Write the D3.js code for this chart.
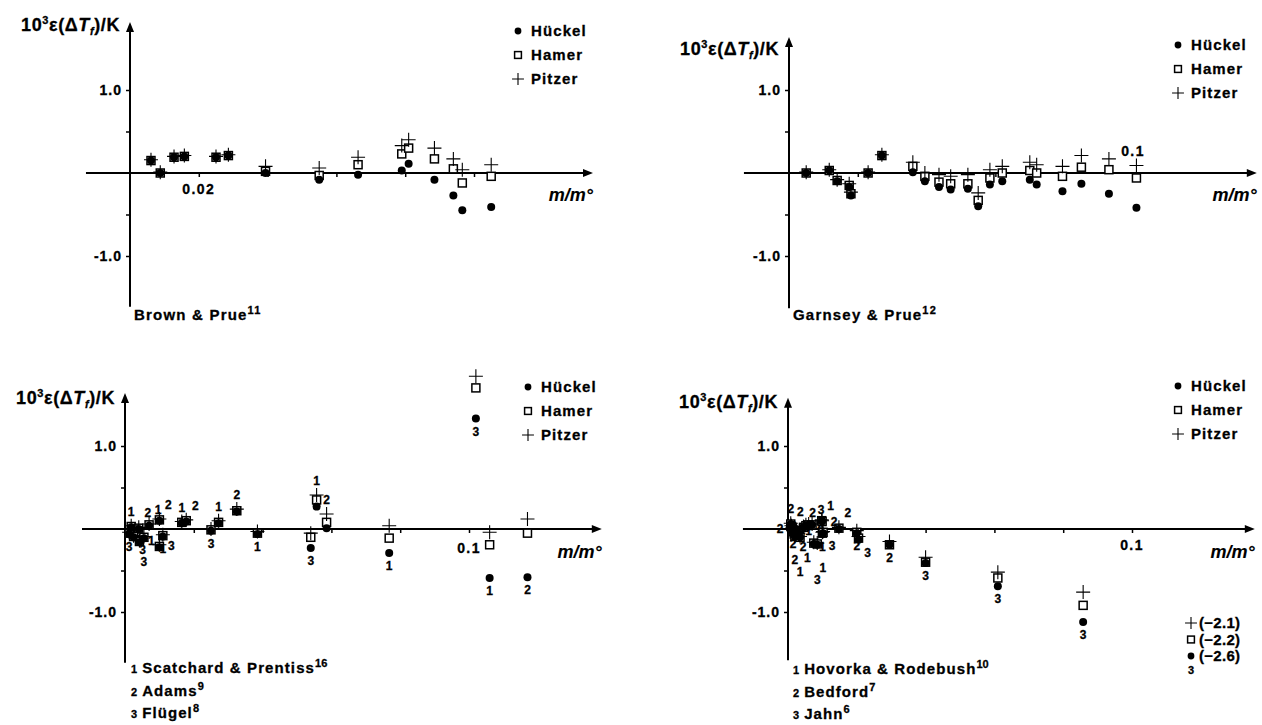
<!DOCTYPE html>
<html>
<head>
<meta charset="utf-8">
<script src="https://cdn.jsdelivr.net/npm/d3@7"></script>
<style>
  body { margin: 0; background: #fff; }
  text { font-family: "Liberation Sans", Arial, sans-serif; font-weight: bold; fill: #000;
         stroke: #000; stroke-width: 0.3px; }
</style>
</head>
<body>
<svg id="chart" width="1262" height="725"></svg>
<script>
// Brown & Prue (top left)
const bpM      = [0.0061, 0.0088, 0.0128, 0.0158, 0.025, 0.0286, 0.0394, 0.055, 0.0663, 0.079, 0.081, 0.0885, 0.094, 0.0966, 0.105];
const bpHuckel = [0.15, 0.0, 0.19, 0.20, 0.19, 0.21, 0.0, -0.08, -0.02, 0.03, 0.11, -0.08, -0.27, -0.45, -0.41];
const bpHamer  = [0.15, 0.0, 0.19, 0.20, 0.19, 0.21, 0.02, -0.03, 0.10, 0.23, 0.30, 0.17, 0.05, -0.12, -0.04];
const bpPitzer = [0.16, 0.01, 0.20, 0.21, 0.20, 0.22, 0.08, 0.06, 0.19, 0.33, 0.40, 0.30, 0.17, 0.04, 0.10];

// Garnsey & Prue (top right)
const gpM      = [0.005, 0.0117, 0.014, 0.0175, 0.018, 0.023, 0.027, 0.036, 0.0395, 0.0436, 0.047, 0.052, 0.055, 0.0584, 0.062, 0.070, 0.072, 0.0795, 0.085, 0.093, 0.101];
const gpHuckel = [0.0, 0.03, -0.10, -0.17, -0.27, 0.0, 0.21, 0.01, -0.10, -0.17, -0.20, -0.19, -0.40, -0.14, -0.10, -0.08, -0.14, -0.22, -0.13, -0.25, -0.42];
const gpHamer  = [0.0, 0.03, -0.09, -0.15, -0.25, 0.0, 0.21, 0.08, -0.04, -0.11, -0.13, -0.13, -0.33, -0.06, 0.0, 0.03, 0.0, -0.04, 0.07, 0.04, -0.06];
const gpPitzer = [0.01, 0.04, -0.08, -0.13, -0.23, 0.01, 0.22, 0.13, 0.0, -0.02, -0.04, -0.02, -0.24, 0.04, 0.08, 0.13, 0.10, 0.08, 0.21, 0.17, 0.09];

// Scatchard & Prentiss (1), Adams (2), Flügel (3) (bottom left)
const spM      = [0.0012, 0.0025, 0.0018, 0.0040, 0.0042, 0.0055, 0.0070, 0.0100, 0.0110, 0.0100, 0.0165, 0.0178, 0.0250, 0.0272, 0.0325, 0.0385, 0.054, 0.0557, 0.0586, 0.0768, 0.102, 0.106, 0.117];
const spHuckel = [-0.06, -0.10, 0.02, 0.00, -0.16, -0.11, 0.04, 0.10, -0.09, -0.22, 0.07, 0.09, -0.02, 0.07, 0.21, -0.06, -0.23, 0.27, 0.01, -0.29, 1.33, -0.59, -0.58];
const spHamer  = [-0.05, -0.09, 0.03, 0.01, -0.15, -0.10, 0.05, 0.11, -0.08, -0.21, 0.08, 0.10, -0.01, 0.08, 0.22, -0.05, -0.10, 0.35, 0.08, -0.11, 1.70, -0.19, -0.05];
const spPitzer = [-0.04, -0.08, 0.04, 0.02, -0.14, -0.09, 0.06, 0.12, -0.07, -0.19, 0.09, 0.11, 0.00, 0.10, 0.24, -0.03, -0.05, 0.41, 0.18, 0.04, 1.84, -0.04, 0.12];
const spSource = [3, 3, 1, 2, 1, 3, 1, 2, 1, 3, 1, 2, 3, 1, 2, 1, 3, 1, 2, 1, 3, 1, 2];
const spNames  = [["Scatchard & Prentiss", "16"], ["Adams", "9"], ["Flügel", "8"]];

// Hovorka & Rodebush (1), Bedford (2), Jahn (3) (bottom right)
const hrM      = [0.0008, 0.0010, 0.0012, 0.0015, 0.0018, 0.0020, 0.0025, 0.0030, 0.0035, 0.0045, 0.0052, 0.0060, 0.0070, 0.0098, 0.0099, 0.0100, 0.0102, 0.0075, 0.0085, 0.0148, 0.0200, 0.0205, 0.0295, 0.040, 0.061, 0.0858];
const hrHuckel = [0.06, 0.03, 0.00, -0.03, -0.06, -0.09, -0.02, -0.06, -0.10, 0.02, 0.04, 0.05, 0.05, 0.10, 0.09, -0.06, -0.05, -0.18, -0.19, 0.00, -0.05, -0.13, -0.19, -0.41, -0.69, -1.12];
const hrHamer  = [0.06, 0.03, 0.00, -0.03, -0.06, -0.09, -0.02, -0.06, -0.10, 0.02, 0.04, 0.05, 0.05, 0.10, 0.09, -0.05, -0.04, -0.17, -0.18, 0.01, -0.04, -0.11, -0.19, -0.40, -0.59, -0.92];
const hrPitzer = [0.07, 0.04, 0.01, -0.02, -0.05, -0.08, -0.01, -0.05, -0.09, 0.03, 0.05, 0.06, 0.06, 0.11, 0.10, -0.04, -0.03, -0.16, -0.17, 0.02, -0.02, -0.09, -0.15, -0.34, -0.52, -0.76];
const hrSource = [2, 2, 2, 2, 2, 2, 1, 1, 1, 2, 1, 2, 3, 1, 2, 1, 3, 1, 3, 2, 2, 3, 2, 3, 3, 3];
const hrNames  = [["Hovorka & Rodebush", "10"], ["Bedford", "7"], ["Jahn", "6"]];
// off-scale Jahn point, given in the corner
const hrOffScale = [["pitzer", "(−2.1)"], ["hamer", "(−2.2)"], ["huckel", "(−2.6)"]];

const legendNames = [["huckel", "Hückel"], ["hamer", "Hamer"], ["pitzer", "Pitzer"]];

const panels = [
  {m: bpM, hu: bpHuckel, ha: bpHamer, pi: bpPitzer,
   ox: 130, oy: 173, xExt: [-0.0128, 0.1346], yExt: [-1.61, 1.82],
   xTicks: [0.02, 0.04, 0.06, 0.08, 0.1], xLabel: {v: 0.02, t: "0.02", dy: 21},
   titleY: 31, legend: [518, 31], mLabelY: 201,
   caption: {x: 134, y: 320, t: "Brown & Prue", sup: "11"}},
  {m: gpM, hu: gpHuckel, ha: gpHamer, pi: gpPitzer,
   ox: 789, oy: 173, xExt: [-0.0131, 0.136], yExt: [-1.63, 1.64],
   xTicks: [0.02, 0.04, 0.06, 0.08, 0.1], xLabel: {v: 0.1, t: "0.1", dy: -17},
   titleY: 55, legend: [1178, 45], mLabelY: 201,
   caption: {x: 793, y: 320, t: "Garnsey & Prue", sup: "12"}},
  {m: spM, hu: spHuckel, ha: spHamer, pi: spPitzer, src: spSource, names: spNames,
   ox: 125, oy: 529, xExt: [-0.0125, 0.1386], yExt: [-1.61, 1.64],
   xTicks: [0.02, 0.04, 0.06, 0.08, 0.1], xLabel: {v: 0.1, t: "0.1", dy: 24},
   titleY: 404, legend: [528, 387], mLabelY: 558,
   sources: {x: 131, y: 673}},
  {m: hrM, hu: hrHuckel, ha: hrHamer, pi: hrPitzer, src: hrSource, names: hrNames,
   ox: 788, oy: 529, xExt: [-0.0131, 0.1357], yExt: [-1.58, 1.58],
   xTicks: [0.02, 0.04, 0.06, 0.08, 0.1], xLabel: {v: 0.1, t: "0.1", dy: 21},
   titleY: 408, legend: [1178, 386], mLabelY: 558,
   sources: {x: 793, y: 674}, offScale: {x: 1191, y: 623}}
];

const svg = d3.select("#chart");
const PX_PER_M = 3440, PX_PER_E = 83;
const plusPath = s => `M${-s},0H${s}M0,${-s}V${s}`;

function drawMarker(g, kind, cx, cy, s) {
  if (kind === "huckel") {
    g.append("circle").attr("cx", cx).attr("cy", cy).attr("r", 4 * s).attr("fill", "#000");
  } else if (kind === "hamer") {
    g.append("rect").attr("x", cx - 4 * s).attr("y", cy - 4 * s)
      .attr("width", 8 * s).attr("height", 8 * s)
      .attr("fill", "#fff").attr("stroke", "#000").attr("stroke-width", 1.5);
  } else {
    g.append("path").attr("transform", `translate(${cx},${cy})`).attr("d", plusPath(7 * s))
      .attr("stroke", "#000").attr("stroke-width", 1.1).attr("fill", "none");
  }
}

panels.forEach(p => {
  const x = d3.scaleLinear().domain([0, 0.1]).range([p.ox, p.ox + PX_PER_M * 0.1]);
  const y = d3.scaleLinear().domain([0, 1]).range([p.oy, p.oy - PX_PER_E]);
  const g = svg.append("g");

  // axes lines with arrowheads
  const xr = [x(p.xExt[0]), x(p.xExt[1])], yr = [y(p.yExt[0]), y(p.yExt[1])];
  g.append("line").attr("x1", xr[0]).attr("x2", xr[1] - 6).attr("y1", y(0)).attr("y2", y(0))
    .attr("stroke", "#000").attr("stroke-width", 2);
  g.append("path").attr("d", `M${xr[1]},${y(0)}L${xr[1] - 10},${y(0) - 4}L${xr[1] - 10},${y(0) + 4}Z`);
  g.append("line").attr("x1", x(0)).attr("x2", x(0)).attr("y1", yr[0]).attr("y2", yr[1] + 6)
    .attr("stroke", "#000").attr("stroke-width", 2);
  g.append("path").attr("d", `M${x(0)},${yr[1]}L${x(0) - 4},${yr[1] + 10}L${x(0) + 4},${yr[1] + 10}Z`);

  const xAxis = g.append("g").attr("transform", `translate(0,${y(0)})`)
    .call(d3.axisBottom(x).tickValues(p.xTicks).tickSize(4).tickFormat(""));
  const yAxis = g.append("g").attr("transform", `translate(${x(0)},0)`)
    .call(d3.axisLeft(y).tickValues([-1, -0.5, 0.5, 1]).tickSize(4).tickPadding(4)
      .tickFormat(d => Math.abs(d) === 1 ? (d < 0 ? "-" : "") + "1.0" : ""));
  [xAxis, yAxis].forEach(a => {
    a.select(".domain").remove();
    a.selectAll(".tick line").attr("stroke-width", 1.5);
  });
  yAxis.selectAll("text").attr("font-size", 14).attr("font-family", null).attr("fill", null)
    .style("letter-spacing", "1px").attr("dy", "0.35em");

  g.append("text").attr("x", x(p.xLabel.v)).attr("y", y(0) + p.xLabel.dy)
    .attr("text-anchor", "middle").attr("font-size", 14).style("letter-spacing", "1.4px")
    .text(p.xLabel.t);

  // y title
  const title = g.append("text").attr("x", x(0) - 10).attr("y", p.titleY)
    .attr("text-anchor", "end").attr("font-size", 18).style("letter-spacing", "0.6px");
  title.append("tspan").text("10");
  title.append("tspan").attr("font-size", 11).attr("dy", -7).text("3");
  title.append("tspan").attr("dy", 7).text("ε(Δ");
  title.append("tspan").attr("font-style", "italic").text("T");
  title.append("tspan").attr("font-size", 11).attr("font-style", "italic").attr("dy", 4).text("f");
  title.append("tspan").attr("dy", -4).text(")/K");

  // x title
  const mt = g.append("text").attr("x", xr[1]).attr("y", p.mLabelY).attr("text-anchor", "end")
    .attr("font-size", 18).attr("font-style", "italic").style("stroke-width", "0.1px");
  mt.append("tspan").text("m/m°");

  // legend
  legendNames.forEach(([kind, name], i) => {
    const ly = p.legend[1] + i * 24;
    drawMarker(g, kind, p.legend[0], ly, 0.85);
    g.append("text").attr("x", p.legend[0] + 13).attr("y", ly + 5)
      .attr("font-size", 15).style("letter-spacing", "1.1px").text(name);
  });

  // points: squares, crosses, dots
  const idx = d3.range(p.m.length);
  const pts = g.append("g");
  idx.forEach(i => drawMarker(pts, "hamer", x(p.m[i]), y(p.ha[i]), 1));
  idx.forEach(i => drawMarker(pts, "pitzer", x(p.m[i]), y(p.pi[i]), 1));
  idx.forEach(i => drawMarker(pts, "huckel", x(p.m[i]), y(p.hu[i]), 1));

  // source numbers next to points
  if (p.src) {
    const placed = [];
    const W = 8, H = 11;
    const hit = (bx, by) => placed.some(b => Math.abs(b[0] - bx) < W && Math.abs(b[1] - by) < H);
    idx.forEach(i => {
      const cx = x(p.m[i]);
      const top = y(Math.max(p.hu[i], p.ha[i], p.pi[i])) - 14;
      const bot = y(Math.min(p.hu[i], p.ha[i], p.pi[i])) + 13;
      // above for positive points, unless that would leave the plotted range
      const up = p.ha[i] >= 0 && top > yr[1];
      const cands = [];
      for (let k = 0; k < 4; k++) {
        const first = up ? top - k * H : bot + k * H;
        [0, 9, -9].forEach(dx => cands.push([cx + dx, first]));
        if (k === 0) {
          cands.push([cx - 12, y(p.ha[i])], [cx + 12, y(p.ha[i])]);
        }
      }
      for (let k = 0; k < 3; k++) {
        const other = up ? bot + k * H : top - k * H;
        [0, 9, -9].forEach(dx => cands.push([cx + dx, other]));
      }
      const c = cands.find(c => !hit(c[0], c[1])) || cands[0];
      placed.push(c);
      g.append("text").attr("x", c[0]).attr("y", c[1] + 4).attr("text-anchor", "middle")
        .attr("font-size", 12).text(p.src[i]);
    });

    p.names.forEach(([name, sup], i) => {
      const t = g.append("text").attr("x", p.sources.x).attr("y", p.sources.y + i * 22.5)
        .attr("font-size", 11);
      t.append("tspan").text(i + 1);
      t.append("tspan").attr("dx", 5).attr("font-size", 15).style("letter-spacing", "1.1px").text(name);
      t.append("tspan").attr("font-size", 11).attr("dy", -6).text(sup);
    });
  } else {
    const t = g.append("text").attr("x", p.caption.x).attr("y", p.caption.y)
      .attr("font-size", 15).style("letter-spacing", "1.2px");
    t.append("tspan").text(p.caption.t);
    t.append("tspan").attr("font-size", 11).attr("dy", -6).text(p.caption.sup);
  }

  if (p.offScale) {
    hrOffScale.forEach(([kind, txt], i) => {
      const oy = p.offScale.y + i * 16.5;
      drawMarker(g, kind, p.offScale.x, oy, 0.85);
      g.append("text").attr("x", p.offScale.x + 8).attr("y", oy + 5)
        .attr("font-size", 15).style("letter-spacing", "0.3px").text(txt);
    });
    g.append("text").attr("x", p.offScale.x).attr("y", p.offScale.y + 3 * 16.5 + 1)
      .attr("text-anchor", "middle").attr("font-size", 11).text(3);
  }
});
</script>
</body>
</html>
